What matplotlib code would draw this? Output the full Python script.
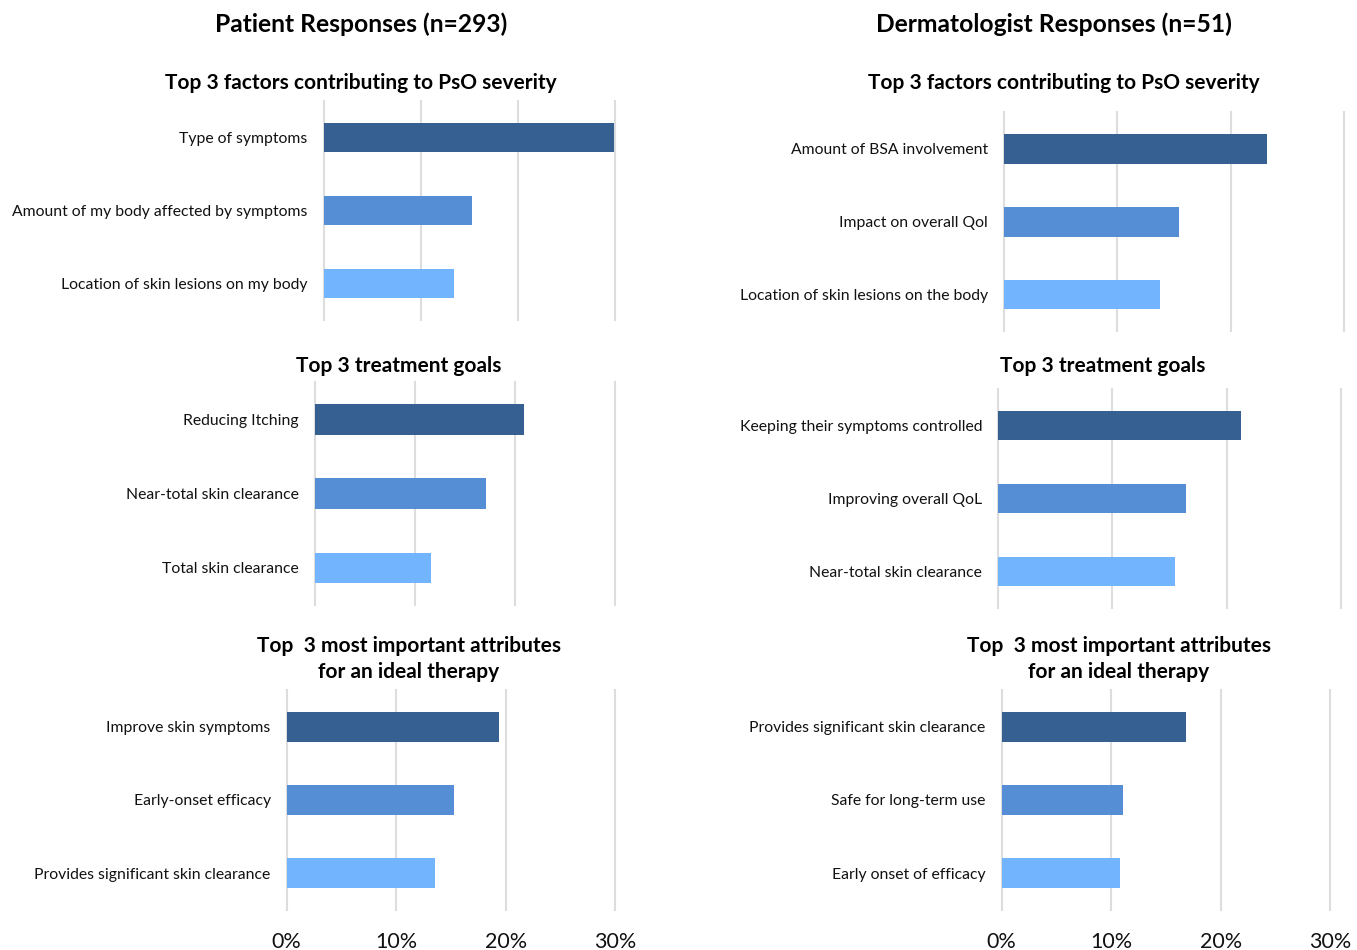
import matplotlib
matplotlib.use("Agg")
import matplotlib.pyplot as plt

plt.rcParams['font.family'] = ['Lato', 'DejaVu Sans']

W, H = 1357, 950

# ---- data ----
col_titles = ["Patient Responses (n=293)", "Dermatologist Responses (n=51)"]
section_titles = ["Top 3 factors contributing to PsO severity",
                  "Top 3 treatment goals",
                  "Top  3 most important attributes\nfor an ideal therapy"]

pat_severity_labels = ["Type of symptoms", "Amount of my body affected by symptoms",
                       "Location of skin lesions on my body"]
pat_severity_values = [29.9, 15.3, 13.4]

pat_goals_labels = ["Reducing Itching", "Near-total skin clearance", "Total skin clearance"]
pat_goals_values = [20.9, 17.1, 11.6]

pat_attr_labels = ["Improve skin symptoms", "Early-onset efficacy",
                   "Provides significant skin clearance"]
pat_attr_values = [19.4, 15.3, 13.5]

derm_severity_labels = ["Amount of BSA involvement", "Impact on overall Qol",
                        "Location of skin lesions on the body"]
derm_severity_values = [23.2, 15.4, 13.8]

derm_goals_labels = ["Keeping their symptoms controlled", "Improving overall QoL",
                     "Near-total skin clearance"]
derm_goals_values = [21.2, 16.4, 15.5]

derm_attr_labels = ["Provides significant skin clearance", "Safe for long-term use",
                    "Early onset of efficacy"]
derm_attr_values = [16.8, 11.1, 10.8]

x_ticks = [0, 10, 20, 30]
x_tick_labels = ["0%", "10%", "20%", "30%"]

bar_colors = ['#366092', '#558ED5', '#72B4FD']
grid_color = '#DDDDDD'

# ---- layout (pixel boxes: x0, y0, x1, y1) ----
panels = [
    ((323.7, 101, 615, 320), pat_severity_labels, pat_severity_values, False),
    ((315, 382.3, 615.3, 605), pat_goals_labels, pat_goals_values, False),
    ((286.7, 690, 615.3, 910), pat_attr_labels, pat_attr_values, True),
    ((1004, 112.3, 1344, 331), derm_severity_labels, derm_severity_values, False),
    ((998, 389, 1341.3, 608), derm_goals_labels, derm_goals_values, False),
    ((1001.7, 690, 1330, 910), derm_attr_labels, derm_attr_values, True),
]

fig = plt.figure(figsize=(W / 100, H / 100), dpi=100)

for (x0, y0, x1, y1), labels, values, show_x in panels:
    ax = fig.add_axes([x0 / W, 1 - y1 / H, (x1 - x0) / W, (y1 - y0) / H])
    pos = list(range(len(labels)))
    ax.barh(pos, values, height=0.41, color=bar_colors, zorder=3)
    ax.set_ylim(len(labels) - 0.5, -0.5)
    ax.set_xlim(0, 30)
    ax.set_xticks(x_ticks)
    ax.set_yticks(pos)
    ax.set_yticklabels(labels, fontsize=11.3, color='#111111')
    ax.tick_params(axis='y', length=0, pad=11.5)
    if show_x:
        ax.set_xticklabels(x_tick_labels, fontsize=15.5, color='#111111')
        ax.tick_params(axis='x', length=0, pad=16)
    else:
        ax.tick_params(axis='x', length=0, labelbottom=False)
    ax.xaxis.grid(True, color=grid_color, linewidth=1.5, zorder=0)
    for gl in ax.get_xgridlines():
        gl.set_clip_on(False)
    ax.set_axisbelow(True)
    for s in ax.spines.values():
        s.set_visible(False)

def ftext(x, y, s, **kw):
    fig.text(x / W, 1 - y / H, s, ha='center', va='center', **kw)

ftext(361, 24, col_titles[0], fontsize=17.7, fontweight='bold')
ftext(1054, 24, col_titles[1], fontsize=17.7, fontweight='bold')

ftext(361, 83, section_titles[0], fontsize=15, fontweight='bold')
ftext(1064, 83, section_titles[0], fontsize=15, fontweight='bold')
ftext(399, 366, section_titles[1], fontsize=15, fontweight='bold')
ftext(1103, 366, section_titles[1], fontsize=15, fontweight='bold')
ftext(409, 659, section_titles[2], fontsize=15, fontweight='bold', linespacing=1.35)
ftext(1119, 659, section_titles[2], fontsize=15, fontweight='bold', linespacing=1.35)

fig.savefig("out.png", dpi=100)
